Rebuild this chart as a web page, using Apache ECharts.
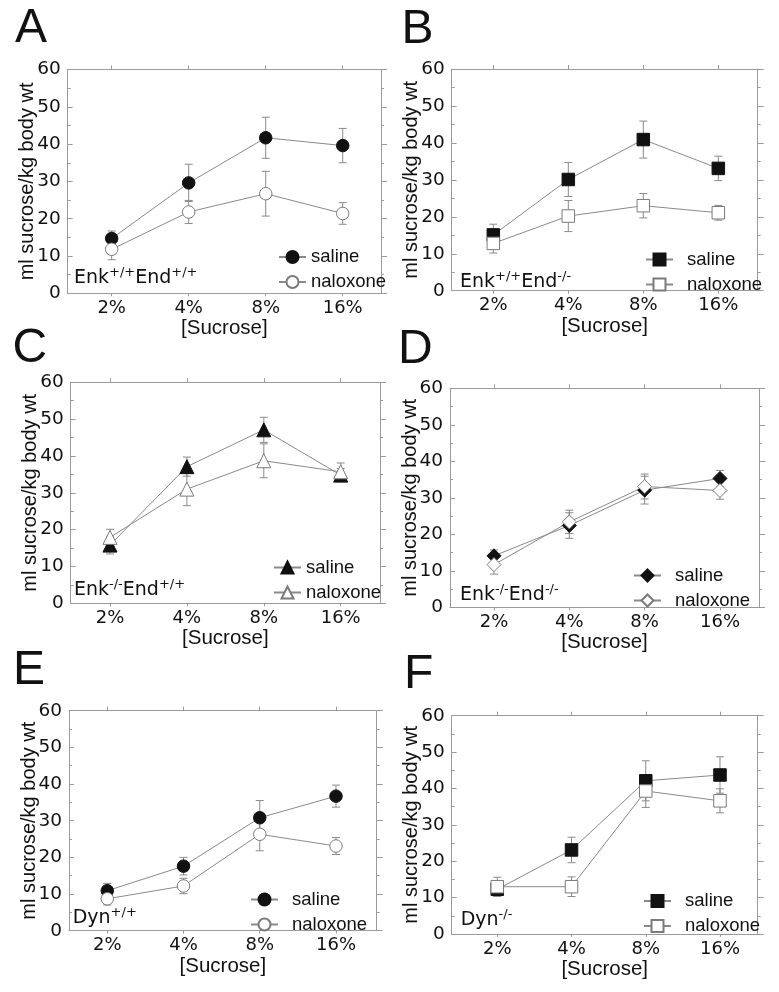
<!DOCTYPE html>
<html><head><meta charset="utf-8">
<script src="https://cdn.jsdelivr.net/npm/echarts@6/dist/echarts.min.js"></script>
<style>html,body{margin:0;padding:0;background:#fff}#c{width:779px;height:992px}</style>
</head><body><div id="c"></div>
<script>
// ---------- data ----------
const concentrations = ['2%', '4%', '8%', '16%'];
const treatments = ['saline', 'naloxone'];
const panelLetters = ['A', 'B', 'C', 'D', 'E', 'F'];
const yAxisTitle = 'ml sucrose/kg body wt';
const xAxisTitle = '[Sucrose]';
const genotypes = [
  [['Enk', '+/+'], ['End', '+/+']],
  [['Enk', '+/+'], ['End', '-/-']],
  [['Enk', '-/-'], ['End', '+/+']],
  [['Enk', '-/-'], ['End', '-/-']],
  [['Dyn', '+/+']],
  [['Dyn', '-/-']]
];
const salineA = [14.7, 29.6, 41.7, 39.6];
const salineAErr = [2.0, 5.0, 5.5, 4.6];
const naloxoneA = [11.8, 21.8, 26.7, 21.4];
const naloxoneAErr = [2.8, 3.1, 6.0, 2.9];
const salineB = [15.1, 30.1, 40.9, 33.1];
const salineBErr = [2.9, 4.6, 5.0, 3.3];
const naloxoneB = [12.8, 20.2, 23.0, 21.1];
const naloxoneBErr = [2.6, 4.2, 3.3, 2.0];
const salineC = [15.8, 37.1, 47.1, 34.8];
const salineCErr = [2.4, 2.6, 3.4, 1.8];
const naloxoneC = [17.9, 31.0, 38.7, 35.7];
const naloxoneCErr = [2.2, 4.5, 4.6, 2.4];
const salineD = [14.1, 22.4, 32.1, 35.3];
const salineDErr = [1.6, 3.5, 3.8, 2.2];
const naloxoneD = [11.7, 23.4, 33.1, 32.0];
const naloxoneDErr = [2.6, 3.2, 3.4, 2.4];
const salineE = [10.9, 17.6, 30.8, 36.7];
const salineEErr = [2.0, 2.4, 4.7, 3.0];
const naloxoneE = [8.7, 12.2, 26.3, 23.1];
const naloxoneEErr = [1.7, 2.1, 4.5, 2.3];
const salineF = [12.3, 23.1, 42.1, 43.7];
const salineFErr = [2.0, 3.5, 5.5, 5.0];
const naloxoneF = [13.0, 13.0, 39.3, 36.6];
const naloxoneFErr = [2.6, 2.7, 4.5, 3.3];

const panelData = [
  [salineA, salineAErr, naloxoneA, naloxoneAErr],
  [salineB, salineBErr, naloxoneB, naloxoneBErr],
  [salineC, salineCErr, naloxoneC, naloxoneCErr],
  [salineD, salineDErr, naloxoneD, naloxoneDErr],
  [salineE, salineEErr, naloxoneE, naloxoneEErr],
  [salineF, salineFErr, naloxoneF, naloxoneFErr]
];
const panelSymbols = ['circle', 'rect', 'triangle', 'diamond', 'circle', 'rect'];

// ---------- layout ----------
const layout = [
  {left: 67.7, top: 69.5, width: 313.3, height: 223.8, xMin: 0.429, xMax: 4.497,
   legL: 273, legT: 242.5, legPad: 0, gx: 74, gy: 266.4, lx: 15, ly: 28.4},
  {left: 451.7, top: 69, width: 306, height: 221.7, xMin: 0.445, xMax: 4.525,
   legL: 640, legT: 245, legPad: 9, gx: 460, gy: 270.4, lx: 401.5, ly: 30.1},
  {left: 70.7, top: 382.3, width: 309.3, height: 221, xMin: 0.489, xMax: 4.511,
   legL: 268, legT: 553, legPad: 0, gx: 74, gy: 578.1, lx: 12.5, ly: 348.4},
  {left: 450, top: 388.3, width: 309, height: 219, xMin: 0.416, xMax: 4.518,
   legL: 628, legT: 561, legPad: 9, gx: 460, gy: 583.1, lx: 398, ly: 350.1},
  {left: 69, top: 710.7, width: 307.7, height: 220, xMin: 0.498, xMax: 4.534,
   legL: 245, legT: 885, legPad: 9, gx: 72.7, gy: 906.4, lx: 13, ly: 670.4},
  {left: 451.7, top: 715.7, width: 306, height: 218.3, xMin: 0.386, xMax: 4.508,
   legL: 638, legT: 886.5, legPad: 9, gx: 460.7, gy: 908.1, lx: 404, ly: 674.4}
];

const FONT = '"Liberation Sans", Arial, sans-serif';
const WIDE = '"DejaVu Sans", sans-serif';
const AX = '#9a9a9a';
const LINE = '#8a8a8a';
const TXT = '#111';
const tickVals = [1, 2, 3, 4];

const grids = [], xAxes = [], yAxes = [], series = [], legends = [], graphics = [];

function errRender(params, api) {
  const x = api.value(0), lo = api.value(1), hi = api.value(2);
  const a = api.coord([x, lo]), b = api.coord([x, hi]);
  const hw = 4;
  const st = {stroke: LINE, lineWidth: 1, fill: null};
  return {type: 'group', children: [
    {type: 'line', shape: {x1: a[0], y1: a[1], x2: b[0], y2: b[1]}, style: st},
    {type: 'line', shape: {x1: a[0] - hw, y1: a[1], x2: a[0] + hw, y2: a[1]}, style: st},
    {type: 'line', shape: {x1: b[0] - hw, y1: b[1], x2: b[0] + hw, y2: b[1]}, style: st}
  ]};
}

layout.forEach((L, g) => {
  grids.push({left: L.left, top: L.top, width: L.width, height: L.height,
              containLabel: false, outerBoundsMode: 'none'});
  const lineSt = {color: AX, width: 1};
  xAxes.push({
    gridIndex: g, type: 'value', position: 'bottom', min: L.xMin, max: L.xMax,
    axisLine: {show: true, onZero: false, lineStyle: lineSt},
    axisTick: {show: true, customValues: tickVals, length: 3, lineStyle: lineSt},
    axisLabel: {show: true, customValues: tickVals, margin: 6, fontSize: 18, color: TXT, fontFamily: WIDE,
                formatter: v => concentrations[Math.round(v) - 1]},
    splitLine: {show: false},
    name: xAxisTitle, nameLocation: 'middle', nameGap: 25, nameMoveOverlap: false,
    nameTextStyle: {fontSize: 20.5, color: TXT, fontFamily: FONT}
  });
  xAxes.push({
    gridIndex: g, type: 'value', position: 'top', min: L.xMin, max: L.xMax,
    axisLine: {show: true, onZero: false, lineStyle: lineSt},
    axisTick: {show: true, customValues: tickVals, length: 4, lineStyle: lineSt},
    axisLabel: {show: false}, splitLine: {show: false}
  });
  yAxes.push({
    gridIndex: g, type: 'value', position: 'left', min: 0, max: 60, interval: 10,
    axisLine: {show: true, lineStyle: lineSt},
    axisTick: {show: true, inside: true, length: 5, lineStyle: lineSt},
    minorTick: {show: true, splitNumber: 2, length: 3, lineStyle: lineSt},
    axisLabel: {margin: 7, fontSize: 18.5, color: TXT, fontFamily: WIDE},
    splitLine: {show: false},
    name: yAxisTitle, nameLocation: 'middle', nameGap: 30, nameMoveOverlap: false,
    nameTextStyle: {fontSize: 20, color: TXT, fontFamily: FONT}
  });
  yAxes.push({
    gridIndex: g, type: 'value', position: 'right', min: 0, max: 60, interval: 10,
    axisLine: {show: true, lineStyle: lineSt},
    axisTick: {show: true, inside: false, length: 6, lineStyle: lineSt},
    minorTick: {show: true, splitNumber: 2, length: 3, lineStyle: lineSt},
    axisLabel: {show: false}, splitLine: {show: false}
  });

  const [sal, salE, nal, nalE] = panelData[g];
  const sym = panelSymbols[g];
  const size = (sym === 'triangle' || sym === 'diamond') ? 14 : 12.5;
  const key = panelLetters[g];
  const groups = [
    {name: treatments[0], vals: sal, err: salE, fill: '#111', border: '#111'},
    {name: treatments[1], vals: nal, err: nalE, fill: '#fff', border: '#7a7a7a'}
  ];
  groups.forEach(grp => {
    series.push({
      type: 'custom', name: 'err ' + grp.name + '|' + key,
      xAxisIndex: 2 * g, yAxisIndex: 2 * g, z: 1, silent: true,
      renderItem: errRender, encode: {x: 0, y: [1, 2]},
      data: grp.vals.map((v, i) => [i + 1, v - grp.err[i], v + grp.err[i]])
    });
  });
  groups.forEach(grp => {
    series.push({
      type: 'line', name: grp.name + '|' + key,
      xAxisIndex: 2 * g, yAxisIndex: 2 * g, z: 2,
      symbol: sym, symbolSize: size, showAllSymbol: true,
      lineStyle: {color: LINE, width: 1},
      itemStyle: {color: grp.fill, borderColor: grp.border, borderWidth: 1},
      emphasis: {disabled: true}, animation: false,
      data: grp.vals.map((v, i) => [i + 1, v])
    });
  });

  legends.push({
    orient: 'vertical', left: L.legL, top: L.legT, selectedMode: false,
    data: treatments.map(t => t + '|' + key),
    itemWidth: 27, itemHeight: 15, itemGap: 6,
    formatter: n => n.split('|')[0],
    textStyle: {fontSize: 18.5, lineHeight: 19, color: TXT, fontFamily: FONT,
                padding: [0, 0, 0, L.legPad]}
  });

  const parts = genotypes[g];
  const txt = parts.map(p => '{b|' + p[0] + '}{s|' + p[1] + '}').join('');
  graphics.push({
    type: 'text', x: L.gx, y: L.gy, silent: true,
    style: {
      text: txt, align: 'left', verticalAlign: 'top', fill: TXT,
      rich: {
        b: {fontSize: 19, lineHeight: 24, verticalAlign: 'middle', fontFamily: WIDE, fill: TXT},
        s: {fontSize: 13, lineHeight: 9, verticalAlign: 'top', fontFamily: WIDE, fill: TXT}
      }
    }
  });
  graphics.push({
    type: 'text', x: L.lx, y: L.ly, silent: true,
    style: {text: key, fontSize: 48, fontFamily: FONT, fill: TXT,
            align: 'left', verticalAlign: 'middle'}
  });
});

const chart = echarts.init(document.getElementById('c'), null, {renderer: 'canvas'});
chart.setOption({
  animation: false,
  backgroundColor: '#fff',
  grid: grids, xAxis: xAxes, yAxis: yAxes,
  legend: legends, series: series, graphic: graphics
});
</script>
</body></html>
